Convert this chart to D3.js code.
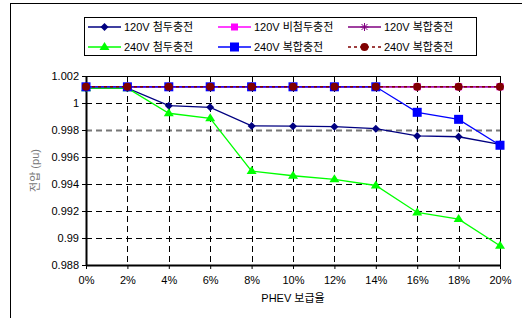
<!DOCTYPE html>
<html>
<head>
<meta charset="utf-8">
<script src="https://cdn.jsdelivr.net/npm/d3@7"></script>
<style>
body { margin: 0; background: #fff; }
text { font-family: "Liberation Sans", Arial, "Noto Sans CJK KR", sans-serif; }
</style>
</head>
<body>
<div id="chart"></div>
<script>
const categories = ["0%", "2%", "4%", "6%", "8%", "10%", "12%", "14%", "16%", "18%", "20%"];
const s120Peak = [1.0011, 1.0011, 0.9998, 0.99968, 0.9983, 0.99828, 0.99825, 0.9981, 0.99756, 0.9975, 0.99694];
const s120OffPeak = [1.0012, 1.0012, 1.0012, 1.0012, 1.0012, 1.0012, 1.0012, 1.0012, 1.0012, 1.0012, 1.0012];
const s120Mixed = [1.0012, 1.0012, 1.0012, 1.0012, 1.0012, 1.0012, 1.0012, 1.0012, 1.0012, 1.0012, 1.0012];
const s240Peak = [1.0011, 1.0011, 0.99924, 0.99887, 0.99496, 0.99461, 0.99435, 0.99389, 0.99189, 0.9914, 0.98943];
const s240Mixed = [1.0012, 1.0012, 1.0012, 1.0012, 1.0012, 1.0012, 1.0012, 1.0012, 0.99931, 0.99879, 0.99687];
const s240Mixed2 = [1.0012, 1.0012, 1.0012, 1.0012, 1.0012, 1.0012, 1.0012, 1.0012, 1.0012, 1.0012, 1.0012];
const yTicks = [0.988, 0.99, 0.992, 0.994, 0.996, 0.998, 1, 1.002];

const width = 522, height = 318;
const margin = { top: 76, right: 22, bottom: 53, left: 86 };

const series = [
    { name: "120V 첨두충전", values: s120Peak, color: "#000080", marker: "diamond", dash: null },
    { name: "120V 비첨두충전", values: s120OffPeak, color: "#ff00ff", marker: "square", dash: null },
    { name: "120V 복합충전", values: s120Mixed, color: "#800080", marker: "star", dash: null },
    { name: "240V 첨두충전", values: s240Peak, color: "#00ff00", marker: "triangle", dash: null },
    { name: "240V 복합충전", values: s240Mixed, color: "#0000ff", marker: "bigsquare", dash: null },
    { name: "240V 복합충전", values: s240Mixed2, color: "#800000", marker: "circle", dash: "3,3" }
];

const svg = d3.select("#chart")
    .append("svg")
    .attr("width", width)
    .attr("height", height);

// 바깥 테두리
svg.append("rect")
    .attr("x", 10.5).attr("y", 3.5)
    .attr("width", 530).attr("height", 330)
    .attr("fill", "none").attr("stroke", "#000").attr("stroke-width", 1);

const xScale = d3.scalePoint()
    .domain(categories)
    .range([margin.left, width - margin.right]);

const yScale = d3.scaleLinear()
    .domain([0.988, 1.002])
    .range([height - margin.bottom, margin.top]);

// 그리드
svg.append("g")
    .selectAll("line")
    .data(yTicks.slice(1, -1))
    .enter()
    .append("line")
    .attr("x1", margin.left).attr("x2", width - margin.right)
    .attr("y1", d => Math.round(yScale(d)) + 0.5).attr("y2", d => Math.round(yScale(d)) + 0.5)
    .attr("stroke", d => d === 0.998 ? "#777" : "#000")
    .attr("stroke-width", d => d === 0.998 ? 2 : 1)
    .attr("stroke-dasharray", "6,4");

svg.append("g")
    .selectAll("line")
    .data(categories.slice(1, -1))
    .enter()
    .append("line")
    .attr("x1", d => Math.round(xScale(d)) + 0.5).attr("x2", d => Math.round(xScale(d)) + 0.5)
    .attr("y1", margin.top).attr("y2", height - margin.bottom)
    .attr("stroke", "#000")
    .attr("stroke-dasharray", "6,4");

// 플롯 영역 테두리
svg.append("rect")
    .attr("x", margin.left + 0.5).attr("y", margin.top + 0.5)
    .attr("width", width - margin.left - margin.right)
    .attr("height", height - margin.top - margin.bottom)
    .attr("fill", "none").attr("stroke", "#000");

// 축
const xAxis = svg.append("g")
    .attr("transform", `translate(0,${height - margin.bottom})`)
    .call(d3.axisBottom(xScale).tickSize(4).tickSizeOuter(0));
xAxis.select(".domain").attr("stroke-width", 2);
xAxis.selectAll("text").attr("font-size", 11).attr("fill", "#000").attr("dy", "1.1em");

const yAxis = svg.append("g")
    .attr("transform", `translate(${margin.left},0)`)
    .call(d3.axisLeft(yScale).tickValues(yTicks).tickFormat(d3.format("~g")).tickSize(4).tickSizeOuter(0));
yAxis.select(".domain").attr("stroke-width", 2);
yAxis.selectAll("text").attr("font-size", 11).attr("fill", "#000").attr("x", -7);

function drawMarker(g, type, color, x, y) {
    if (type === "diamond") {
        g.append("path").attr("d", `M${x},${y - 4}L${x + 4},${y}L${x},${y + 4}L${x - 4},${y}Z`).attr("fill", color);
    } else if (type === "square") {
        g.append("rect").attr("x", x - 3.5).attr("y", y - 3.5).attr("width", 7).attr("height", 7).attr("fill", color);
    } else if (type === "bigsquare") {
        g.append("rect").attr("x", x - 4.5).attr("y", y - 4.5).attr("width", 9).attr("height", 9).attr("fill", color);
    } else if (type === "triangle") {
        g.append("path").attr("d", `M${x},${y - 5}L${x + 5},${y + 3}L${x - 5},${y + 3}Z`).attr("fill", color);
    } else if (type === "circle") {
        g.append("circle").attr("cx", x).attr("cy", y).attr("r", 4).attr("fill", color);
    } else if (type === "star") {
        const p = g.append("g").attr("stroke", color).attr("stroke-width", 1);
        p.append("line").attr("x1", x - 4).attr("x2", x + 4).attr("y1", y).attr("y2", y);
        p.append("line").attr("x1", x).attr("x2", x).attr("y1", y - 4).attr("y2", y + 4);
        p.append("line").attr("x1", x - 3).attr("x2", x + 3).attr("y1", y - 3).attr("y2", y + 3);
        p.append("line").attr("x1", x - 3).attr("x2", x + 3).attr("y1", y + 3).attr("y2", y - 3);
    }
}

// 선과 마커
const line = d3.line()
    .x((d, i) => xScale(categories[i]))
    .y(d => yScale(d));

series.forEach(s => {
    const g = svg.append("g");
    g.append("path")
        .datum(s.values)
        .attr("d", line)
        .attr("fill", "none")
        .attr("stroke", s.color)
        .attr("stroke-width", s.dash ? 1.5 : 1.3)
        .attr("stroke-dasharray", s.dash);
    s.values.forEach((v, i) => drawMarker(g, s.marker, s.color, xScale(categories[i]), yScale(v)));
});

// 범례
const legend = svg.append("g");
legend.append("rect")
    .attr("x", 84.5).attr("y", 17.5)
    .attr("width", 392).attr("height", 38)
    .attr("fill", "#fff").attr("stroke", "#000");
const colX = [88, 218, 348];
const rowY = [27, 47];
series.forEach((s, i) => {
    const cx = colX[i % 3], cy = rowY[Math.floor(i / 3)];
    legend.append("line")
        .attr("x1", cx).attr("x2", cx + 33).attr("y1", cy).attr("y2", cy)
        .attr("stroke", s.color).attr("stroke-width", 1.3)
        .attr("stroke-dasharray", s.dash);
    drawMarker(legend, s.marker, s.color, cx + 16.5, cy);
    legend.append("text")
        .attr("x", cx + 36).attr("y", cy + 4)
        .attr("font-size", 11)
        .text(s.name);
});

// X축 제목
svg.append("text")
    .attr("x", 293)
    .attr("y", 302)
    .attr("text-anchor", "middle")
    .style("font-size", "11px")
    .text("PHEV 보급율");

// Y축 제목
svg.append("text")
    .attr("transform", "rotate(-90)")
    .attr("x", -(margin.top + (height - margin.bottom)) / 2)
    .attr("y", 39)
    .attr("text-anchor", "middle")
    .attr("fill", "#777")
    .style("font-size", "11px")
    .text("전압 (pu)");
</script>
</body>
</html>
